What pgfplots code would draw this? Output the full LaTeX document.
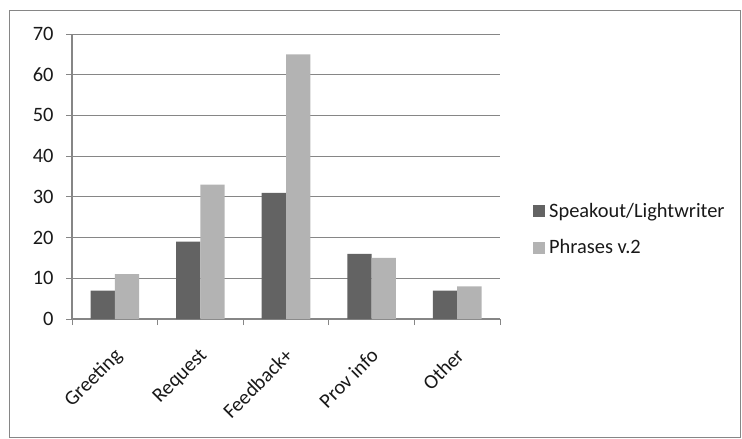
\documentclass[border=0pt]{standalone}
\usepackage{fontspec}
\setmainfont{Carlito}
\usepackage{pgfplots}
\pgfplotsset{compat=1.18}
\definecolor{darkbar}{HTML}{636363}
\definecolor{lightbar}{HTML}{B3B3B3}
\definecolor{axgray}{HTML}{868686}
\begin{document}
\begin{tikzpicture}
\useasboundingbox (-72bp,-120bp) rectangle (670bp,319bp);
\draw[axgray, line width=1bp] (-62.5bp,-118.5bp) rectangle (668.5bp,308bp);
\begin{axis}[
  at={(0,0)}, anchor=south west,
  scale only axis,
  width=428bp, height=285bp,
  ybar=0pt, bar width=24.3bp,
  xmin=-0.5, xmax=4.5,
  ymin=0, ymax=70,
  ytick={0,10,...,70},
  xtick={0,1,2,3,4},
  xticklabels={Greeting,Request,Feedback+,Prov info,Other},
  minor xtick={-0.5,0.5,1.5,2.5,3.5,4.5},
  major x tick style={draw=none},
  minor tick length=6bp,
  major tick length=6bp,
  tick align=outside,
  tick pos=left,
  tick style={axgray, line width=1bp},
  axis x line*=bottom, axis y line*=left,
  axis line style={axgray, line width=1.2bp, -},
  ymajorgrids,
  grid style={axgray, line width=1bp},
  /pgf/number format/assume math mode=true,
  tick label style={font=\fontsize{20.5}{24}\selectfont, text=black!90},
  yticklabel style={xshift=-9bp},
  xticklabel style={xshift=-2bp, yshift=-17bp, rotate=45, anchor=north east},
  legend style={at={(1.077,0.315)}, anchor=west, draw=none, fill=none,
    font=\fontsize{20.5}{24}\selectfont, text=black!90, row sep=17bp,
    legend cell align=left, inner sep=0pt,
    nodes={inner xsep=4bp}},
  legend image code/.code={\fill[#1] (0bp,-6bp) rectangle (12bp,6bp);},
]
\addplot[fill=darkbar, draw=none] coordinates {(0,7) (1,19) (2,31) (3,16) (4,7)};
\addplot[fill=lightbar, draw=none] coordinates {(0,11) (1,33) (2,65) (3,15) (4,8)};
\legend{Speakout/Lightwriter, Phrases v.2}
\end{axis}
\end{tikzpicture}
\end{document}
